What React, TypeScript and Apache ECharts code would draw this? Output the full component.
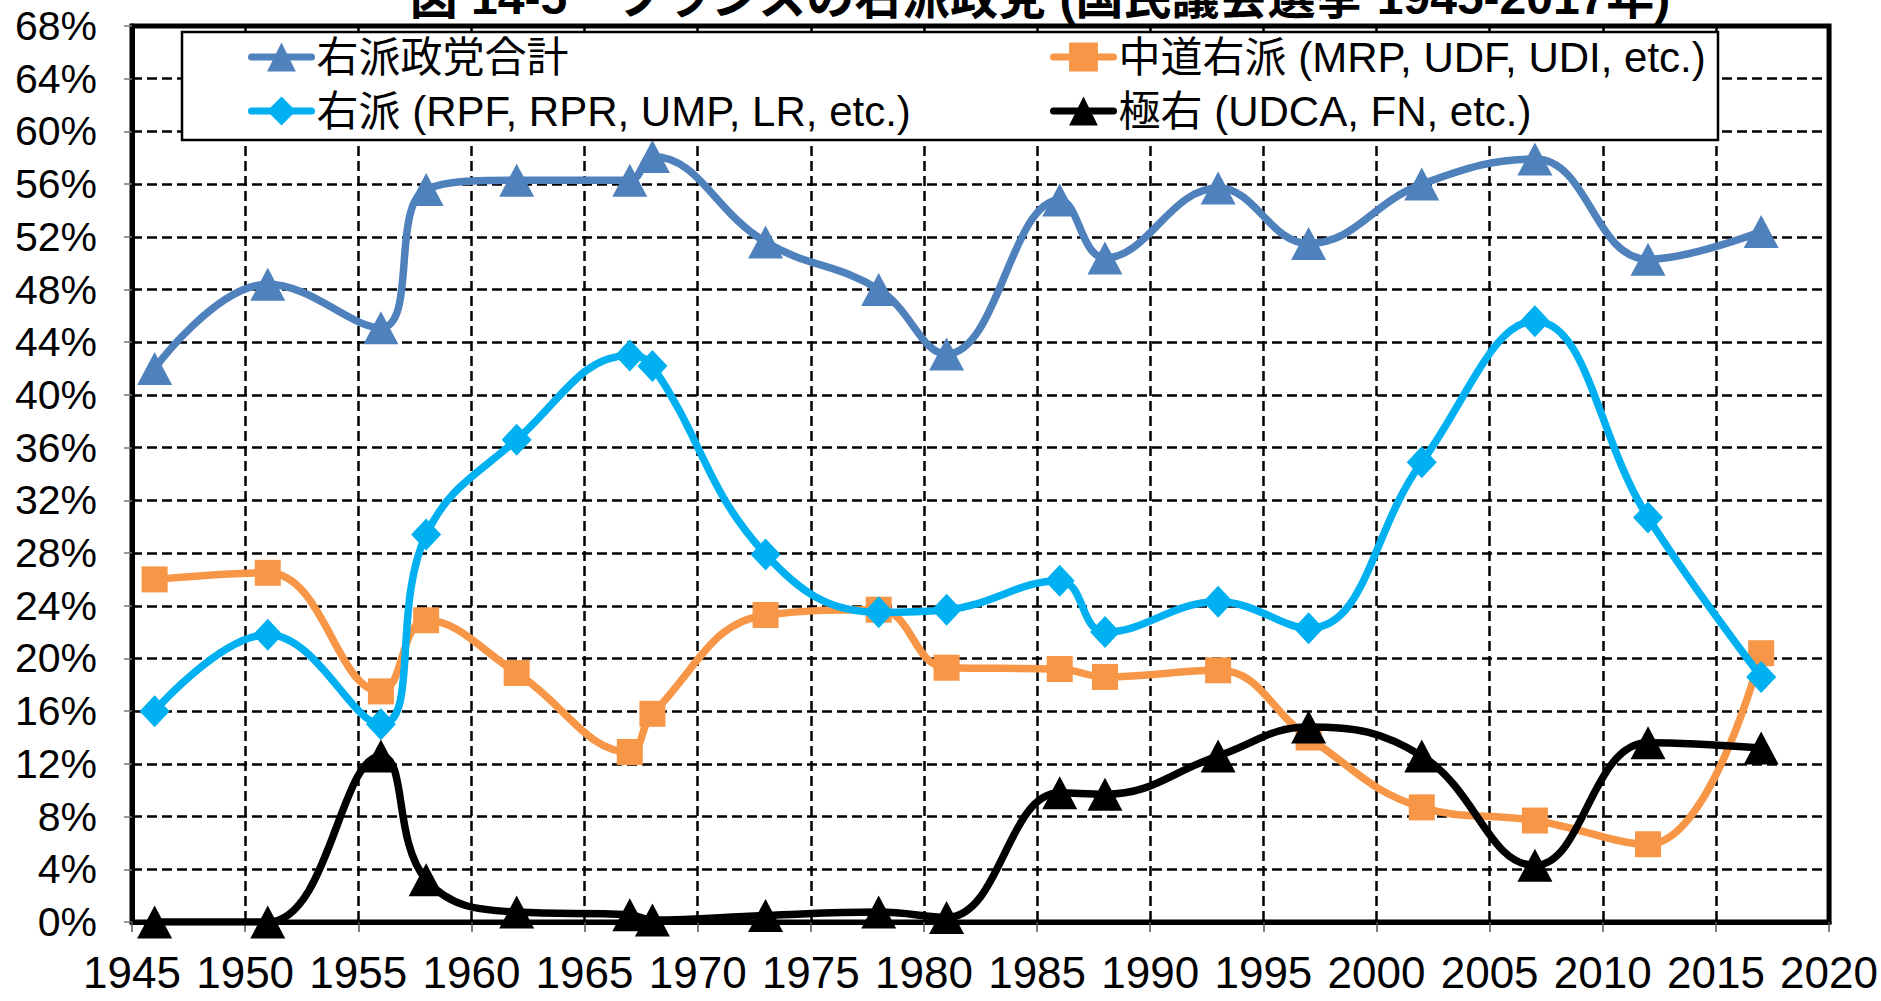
import React, { useEffect, useRef } from "react";
import * as echarts from "echarts";

const years = [1946, 1951, 1956, 1958, 1962, 1967, 1968, 1973, 1978, 1981, 1986, 1988, 1993, 1997, 2002, 2007, 2012, 2017];
const totalRight = [42.0, 48.4, 45.1, 55.6, 56.3, 56.3, 58.1, 51.6, 48.0, 43.1, 54.8, 50.4, 55.7, 51.5, 56.0, 57.9, 50.3, 52.4];
const centerRight = [26.0, 26.5, 17.5, 22.9, 18.9, 12.9, 15.8, 23.3, 23.7, 19.3, 19.2, 18.6, 19.1, 14.0, 8.7, 7.7, 5.9, 20.4];
const gaullist = [16.0, 21.8, 15.0, 29.4, 36.6, 43.0, 42.2, 27.9, 23.5, 23.7, 25.9, 22.0, 24.3, 22.3, 34.9, 45.6, 30.7, 18.6];
const farRight = [0, 0, 12.6, 3.2, 0.75, 0.55, 0.15, 0.5, 0.75, 0.35, 9.8, 9.7, 12.6, 14.8, 12.6, 4.3, 13.6, 13.2];

const seriesNames = [
  "右派政党合計",
  "中道右派 (MRP, UDF, UDI, etc.)",
  "右派 (RPF, RPR, UMP, LR, etc.)",
  "極右 (UDCA, FN, etc.)",
];
const seriesColors = ["#4F81BD", "#F79646", "#00B0F0", "#000000"];
const seriesSymbols = ["triangle", "rect", "diamond", "triangle"];
const seriesValues = [totalRight, centerRight, gaullist, farRight];

const titleText = "図 14-5　フランスの右派政党 (国民議会選挙 1945-2017年)";
const FONT = "'Liberation Sans', Arial, 'Noto Sans CJK JP', sans-serif";

export default function App() {
  const ref = useRef<HTMLDivElement>(null);
  useEffect(() => {
    if (!ref.current) return;
    const chart = echarts.init(ref.current, undefined, { renderer: "svg" });
    const symbolSizes: any[] = [[35, 33], 26, [30, 32], [35, 33]];
    const series = seriesNames.map((name, i) => ({
      name,
      type: "line",
      data: years.map((y, j) => [y, seriesValues[i][j]]),
      smooth: 0.42,
      symbol: seriesSymbols[i],
      symbolSize: symbolSizes[i],
      showSymbol: true,
      lineStyle: { color: seriesColors[i], width: 7.5, cap: "round", join: "round" },
      itemStyle: { color: seriesColors[i] },
      z: 2 + i,
    }));
    const legendCommon = {
      orient: "vertical",
      top: 33,
      padding: 0,
      itemWidth: 60,
      itemHeight: 36,
      itemGap: 6,
      z: 20,
      lineStyle: { width: 7, cap: "round" },
      textStyle: { fontFamily: FONT, fontSize: 42, color: "#000", lineHeight: 48 },
    };
    chart.setOption({
      animation: false,
      backgroundColor: "#fff",
      title: {
        text: titleText,
        left: 1040,
        top: -27,
        textAlign: "center",
        padding: 0,
        textStyle: { fontFamily: FONT, fontSize: 48, fontWeight: "bold", color: "#000" },
      },
      graphic: [
        {
          type: "rect",
          z: 10,
          shape: { x: 182, y: 32, width: 1536, height: 108 },
          style: { fill: "#fff", stroke: "#000", lineWidth: 2.5 },
        },
      ],
      legend: [
        { ...legendCommon, data: [seriesNames[0], seriesNames[2]], left: 248 },
        { ...legendCommon, data: [seriesNames[1], seriesNames[3]], left: 1050 },
      ],
      grid: {
        left: 132,
        right: 51,
        top: 26,
        bottom: 79,
        show: true,
        borderColor: "#000",
        borderWidth: 5,
        backgroundColor: "#fff",
      },
      xAxis: {
        type: "value",
        min: 1945,
        max: 2020,
        interval: 5,
        axisLine: { show: true, onZero: false, lineStyle: { color: "#000", width: 5 } },
        axisTick: { show: true, length: 10, lineStyle: { color: "#555", width: 1.5 } },
        axisLabel: {
          margin: 28,
          fontFamily: FONT,
          fontSize: 44,
          color: "#000",
          formatter: (v: number) => String(v),
        },
        splitLine: { show: true, lineStyle: { color: "#000", width: 2.5, type: [10, 5] } },
      },
      yAxis: {
        type: "value",
        min: 0,
        max: 68,
        interval: 4,
        axisLine: { show: true, lineStyle: { color: "#000", width: 5 } },
        axisTick: { show: true, length: 8, lineStyle: { color: "#777", width: 1.5 } },
        axisLabel: {
          margin: 35,
          fontFamily: FONT,
          fontSize: 41,
          color: "#000",
          formatter: "{value}%",
        },
        splitLine: { show: true, lineStyle: { color: "#000", width: 2.5, type: [10, 5] } },
      },
      series,
    });
    return () => chart.dispose();
  }, []);
  return <div ref={ref} style={{ width: 1881, height: 1001, position: "absolute", left: 0, top: 0 }} />;
}
